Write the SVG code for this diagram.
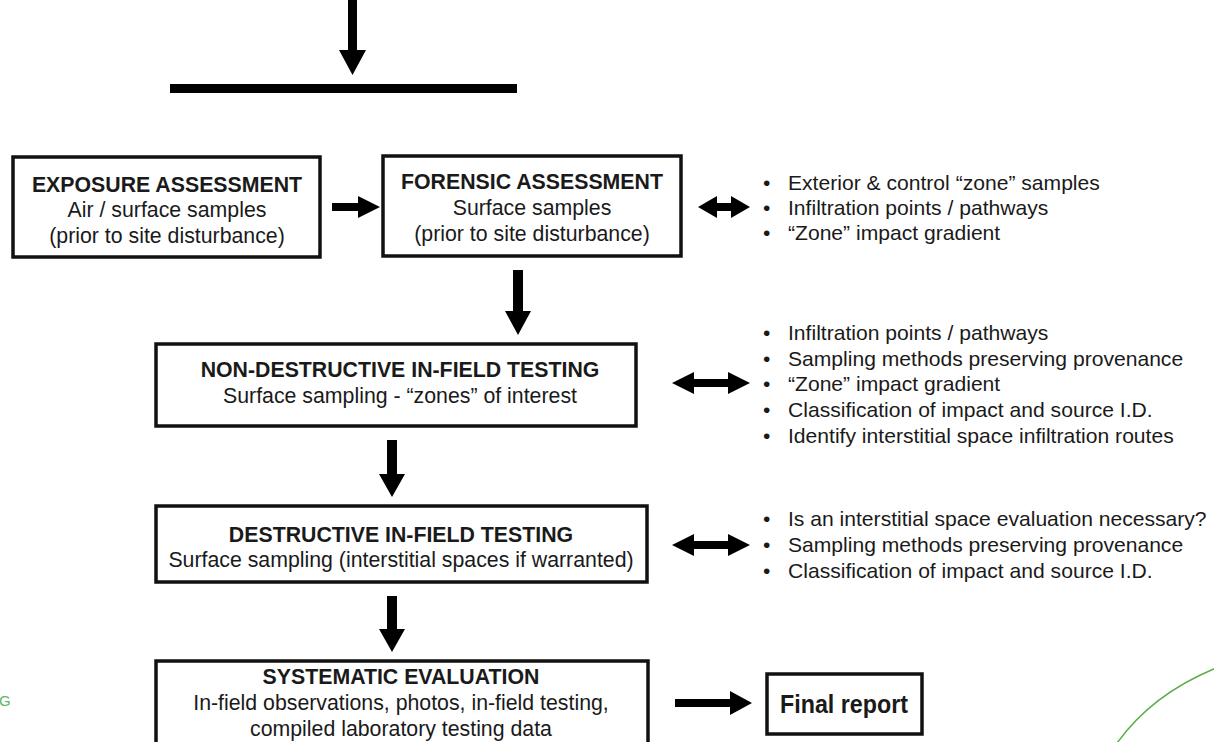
<svg xmlns="http://www.w3.org/2000/svg" width="1214" height="742" viewBox="0 0 1214 742">
<style>
.box{fill:#fff;stroke:#111;stroke-width:3.5}
.t{font-family:"Liberation Sans",Arial,sans-serif;font-size:21.3px;fill:#1a1a1a;text-anchor:middle}
.b{font-weight:bold}
.bl{font-family:"Liberation Sans",Arial,sans-serif;font-size:21.1px;fill:#1a1a1a}
.ar{fill:#000}
</style>
<rect width="1214" height="742" fill="#fff"/>
<g id="connectors">
<polygon class="ar" points="348,0 357,0 357,50 366,50 352.5,75 339,50 348,50"/>
<rect x="170" y="84" width="347" height="9" fill="#000"/>
<polygon class="ar" points="332,203 358,203 358,196 380,207 358,218 358,211 332,211"/>
<polygon class="ar" points="698,207 717,196 717,203 731,203 731,196 750,207 731,218 731,211 717,211 717,218"/>
<polygon class="ar" points="513,270 523,270 523,311 531,311 518,335 505,311 513,311"/>
<polygon class="ar" points="672,383 694,372 694,379 728,379 728,372 750,383 728,394 728,387 694,387 694,394"/>
<polygon class="ar" points="387,440 397,440 397,474 405,474 392,497 379,474 387,474"/>
<polygon class="ar" points="672,545 694,534 694,541 728,541 728,534 750,545 728,556 728,549 694,549 694,556"/>
<polygon class="ar" points="387,596 397,596 397,629 405,629 392,652 379,629 387,629"/>
<polygon class="ar" points="675,699 730,699 730,691 752,703 730,715 730,707 675,707"/>
</g>
<g id="exposure">
<rect class="box" x="13" y="157" width="307" height="100"/>
<text class="t b" x="167" y="192">EXPOSURE ASSESSMENT</text>
<text class="t" x="167" y="217">Air / surface samples</text>
<text class="t" x="167" y="243">(prior to site disturbance)</text>
</g>
<g id="forensic">
<rect class="box" x="383" y="156" width="298" height="100"/>
<text class="t b" x="532" y="189">FORENSIC ASSESSMENT</text>
<text class="t" x="532" y="215">Surface samples</text>
<text class="t" x="532" y="241">(prior to site disturbance)</text>
</g>
<g id="list1">
<text class="bl" x="763" y="190">•</text><text class="bl" x="788" y="190">Exterior &amp; control “zone” samples</text>
<text class="bl" x="763" y="215">•</text><text class="bl" x="788" y="215">Infiltration points / pathways</text>
<text class="bl" x="763" y="240">•</text><text class="bl" x="788" y="240">“Zone” impact gradient</text>
</g>
<g id="nondestructive">
<rect class="box" x="156" y="344" width="480" height="82"/>
<text class="t b" x="400" y="377">NON-DESTRUCTIVE IN-FIELD TESTING</text>
<text class="t" x="400" y="403">Surface sampling - “zones” of interest</text>
</g>
<g id="list2">
<text class="bl" x="763" y="340">•</text><text class="bl" x="788" y="340">Infiltration points / pathways</text>
<text class="bl" x="763" y="366">•</text><text class="bl" x="788" y="366">Sampling methods preserving provenance</text>
<text class="bl" x="763" y="391">•</text><text class="bl" x="788" y="391">“Zone” impact gradient</text>
<text class="bl" x="763" y="417">•</text><text class="bl" x="788" y="417">Classification of impact and source I.D.</text>
<text class="bl" x="763" y="443">•</text><text class="bl" x="788" y="443">Identify interstitial space infiltration routes</text>
</g>
<g id="destructive">
<rect class="box" x="156" y="506" width="491" height="76"/>
<text class="t b" x="401" y="542">DESTRUCTIVE IN-FIELD TESTING</text>
<text class="t" x="401" y="567">Surface sampling (interstitial spaces if warranted)</text>
</g>
<g id="list3">
<text class="bl" x="763" y="526">•</text><text class="bl" x="788" y="526">Is an interstitial space evaluation necessary?</text>
<text class="bl" x="763" y="552">•</text><text class="bl" x="788" y="552">Sampling methods preserving provenance</text>
<text class="bl" x="763" y="578">•</text><text class="bl" x="788" y="578">Classification of impact and source I.D.</text>
</g>
<g id="systematic">
<rect class="box" x="156" y="661" width="492" height="90"/>
<text class="t b" x="401" y="684">SYSTEMATIC EVALUATION</text>
<text class="t" x="401" y="710">In-field observations, photos, in-field testing,</text>
<text class="t" x="401" y="736">compiled laboratory testing data</text>
</g>
<g id="final">
<rect class="box" x="767" y="674" width="155" height="60"/>
<text x="844" y="713" font-family="'Liberation Sans Narrow','Liberation Sans',Arial,sans-serif" font-size="26" font-weight="bold" fill="#1a1a1a" text-anchor="middle" textLength="128" lengthAdjust="spacingAndGlyphs">Final report</text>
</g>
<g id="decor">
<text x="-1" y="706" font-family="'Liberation Sans',Arial,sans-serif" font-size="15" fill="#5cb85c">G</text>
<path d="M1115,746 Q1150,695 1216,668" fill="none" stroke="#5cae4c" stroke-width="1.5"/>
</g>
</svg>
